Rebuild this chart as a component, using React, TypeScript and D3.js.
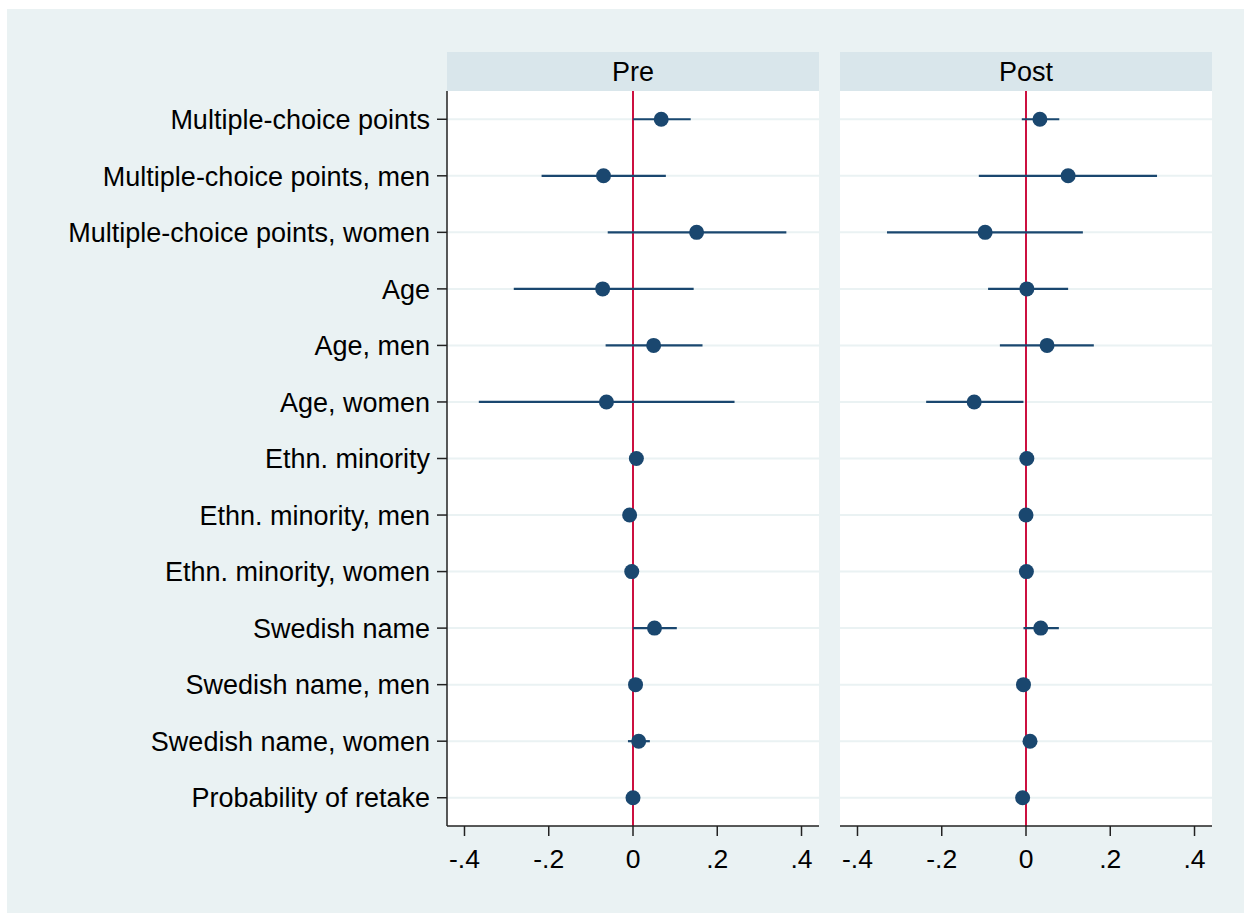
import React from "react";
import * as d3 from "d3";

const categories = [
  "Multiple-choice points",
  "Multiple-choice points, men",
  "Multiple-choice points, women",
  "Age",
  "Age, men",
  "Age, women",
  "Ethn. minority",
  "Ethn. minority, men",
  "Ethn. minority, women",
  "Swedish name",
  "Swedish name, men",
  "Swedish name, women",
  "Probability of retake",
];

const panels = ["Pre", "Post"];

const preEst = [0.067, -0.07, 0.151, -0.072, 0.049, -0.063, 0.008, -0.008, -0.003, 0.051, 0.006, 0.0135, 0.0];
const preLo = [0.0, -0.217, -0.06, -0.283, -0.065, -0.366, 0.003, -0.013, -0.008, 0.0, 0.001, -0.012, -0.007];
const preHi = [0.137, 0.078, 0.364, 0.144, 0.165, 0.241, 0.013, -0.003, 0.002, 0.104, 0.011, 0.04, 0.007];

const postEst = [0.033, 0.1, -0.097, 0.002, 0.05, -0.123, 0.002, 0.0, 0.001, 0.035, -0.006, 0.0095, -0.008];
const postLo = [-0.01, -0.112, -0.33, -0.09, -0.062, -0.237, -0.003, -0.005, -0.004, -0.006, -0.011, 0.004, -0.013];
const postHi = [0.079, 0.311, 0.135, 0.1, 0.161, -0.006, 0.007, 0.005, 0.006, 0.078, -0.001, 0.015, -0.003];

const xTicks = [-0.4, -0.2, 0, 0.2, 0.4];
const xTickLabels = ["-.4", "-.2", "0", ".2", ".4"];

const W = 1244;
const H = 913;
const BG = "#EAF2F3";
const HEADER = "#D9E6EB";
const NAVY = "#1A476F";
const RED = "#CC1040";
const FONT = "'Liberation Sans', Arial, Helvetica, sans-serif";

const panelX = [
  [447, 819],
  [840, 1212],
];
const headerTop = 52;
const plotTop = 91;
const plotBottom = 826;

export default function App() {
  const y = d3.scalePoint<string>().domain(categories).range([plotTop, plotBottom]).padding(0.5);
  const series = [
    { est: preEst, lo: preLo, hi: preHi },
    { est: postEst, lo: postLo, hi: postHi },
  ];

  return (
    <svg
      width={W}
      height={H}
      style={{ position: "absolute", left: 0, top: 0, display: "block" }}
      fontFamily={FONT}
    >
      <rect x={0} y={0} width={W} height={H} fill="#FFFFFF" />
      <rect x={7} y={9} width={W - 7} height={H - 9} fill={BG} />
      {panels.map((p, pi) => {
        const [x0, x1] = panelX[pi];
        const x = d3.scaleLinear().domain([-0.4415, 0.4415]).range([x0, x1]);
        const s = series[pi];
        return (
          <g key={p}>
            <rect x={x0} y={headerTop} width={x1 - x0} height={plotTop - headerTop} fill={HEADER} />
            <text x={(x0 + x1) / 2} y={81} textAnchor="middle" fontSize={27} fill="#000">
              {p}
            </text>
            <rect x={x0} y={plotTop} width={x1 - x0} height={plotBottom - plotTop} fill="#FFFFFF" />
            {categories.map((c) => (
              <line key={c} x1={x0} x2={x1} y1={y(c)} y2={y(c)} stroke={BG} strokeWidth={2} />
            ))}
            <line x1={x(0)} x2={x(0)} y1={plotTop} y2={plotBottom} stroke={RED} strokeWidth={2} />
            {categories.map((c, i) => (
              <g key={c}>
                <line x1={x(s.lo[i])} x2={x(s.hi[i])} y1={y(c)} y2={y(c)} stroke={NAVY} strokeWidth={2.2} />
                <circle cx={x(s.est[i])} cy={y(c)} r={7.5} fill={NAVY} />
              </g>
            ))}
            <line x1={x0} x2={x1} y1={plotBottom} y2={plotBottom} stroke="#222" strokeWidth={1.5} />
            {xTicks.map((t, ti) => (
              <g key={t}>
                <line x1={x(t)} x2={x(t)} y1={plotBottom} y2={plotBottom + 10} stroke="#222" strokeWidth={1.5} />
                <text x={x(t)} y={868} textAnchor="middle" fontSize={26.5} fill="#000">
                  {xTickLabels[ti]}
                </text>
              </g>
            ))}
          </g>
        );
      })}
      <line x1={panelX[0][0]} x2={panelX[0][0]} y1={plotTop} y2={plotBottom} stroke="#222" strokeWidth={1.5} />
      {categories.map((c) => (
        <g key={c}>
          <line x1={437} x2={447} y1={y(c)} y2={y(c)} stroke="#222" strokeWidth={1.5} />
          <text x={430} y={y(c)} dy="0.36em" textAnchor="end" fontSize={27} fill="#000">
            {c}
          </text>
        </g>
      ))}
    </svg>
  );
}
